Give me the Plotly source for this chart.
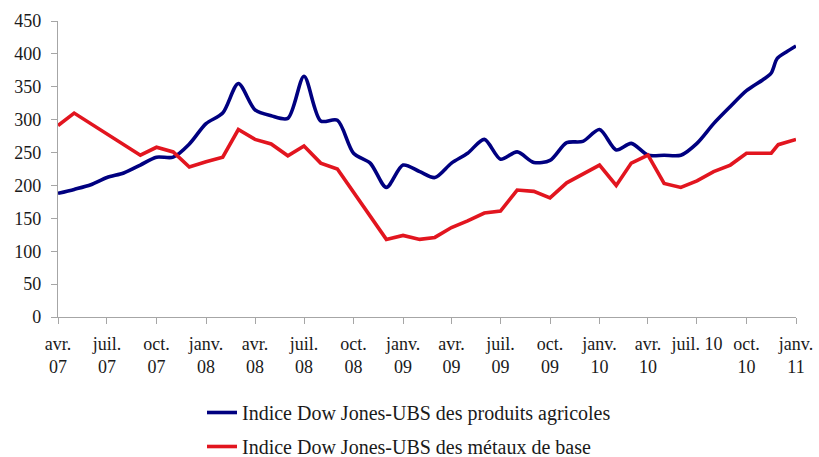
import plotly.graph_objects as go

# Data
agri_dates = [
    "2007-04-01", "2007-05-01", "2007-06-01", "2007-07-01", "2007-08-01", "2007-09-01",
    "2007-10-01", "2007-11-01", "2007-12-01", "2008-01-01", "2008-02-01", "2008-03-01",
    "2008-04-01", "2008-05-01", "2008-06-01", "2008-07-01", "2008-08-01", "2008-09-01",
    "2008-10-01", "2008-11-01", "2008-12-01", "2009-01-01", "2009-02-01", "2009-03-01",
    "2009-04-01", "2009-05-01", "2009-06-01", "2009-07-01", "2009-08-01", "2009-09-01",
    "2009-10-01", "2009-11-01", "2009-12-01", "2010-01-01", "2010-02-01", "2010-03-01",
    "2010-04-01", "2010-05-01", "2010-06-01", "2010-07-01", "2010-08-01", "2010-09-01",
    "2010-10-01", "2010-11-01", "2010-11-16", "2010-11-27", "2010-12-14", "2011-01-01",
]
agri_values = [
    188, 194, 201, 212, 219, 231,
    243, 243, 263, 294, 310, 355,
    315, 306, 302, 366, 298, 299,
    249, 234, 197, 231, 221, 212,
    234, 249, 270, 240, 251, 235,
    238, 265, 267, 285, 254, 264,
    246, 246, 246, 264, 294, 320,
    344, 361, 371, 393, 403, 412,
]

metal_dates = [
    "2007-04-01", "2007-05-01", "2007-09-01", "2007-10-01", "2007-11-01", "2007-12-01",
    "2008-01-01", "2008-02-01", "2008-03-01", "2008-04-01", "2008-05-01", "2008-06-01",
    "2008-07-01", "2008-08-01", "2008-09-01", "2008-12-01", "2009-01-01", "2009-02-01",
    "2009-03-01", "2009-04-01", "2009-05-01", "2009-06-01", "2009-07-01", "2009-08-01",
    "2009-09-01", "2009-10-01", "2009-11-01", "2009-12-01", "2010-01-01", "2010-02-01",
    "2010-03-01", "2010-04-01", "2010-05-01", "2010-06-01", "2010-07-01", "2010-08-01",
    "2010-09-01", "2010-10-01", "2010-11-16", "2010-11-29", "2011-01-01",
]
metal_values = [
    291, 310, 246, 258, 251, 228,
    236, 243, 285, 270, 263, 245,
    260, 234, 225, 118, 124, 118,
    121, 136, 146, 158, 161, 193,
    191, 181, 204, 217, 231, 200,
    234, 246, 203, 197, 207, 221,
    231, 249, 249, 262, 270,
]

tick_dates = [
    "2007-04-01", "2007-07-01", "2007-10-01", "2008-01-01", "2008-04-01", "2008-07-01",
    "2008-10-01", "2009-01-01", "2009-04-01", "2009-07-01", "2009-10-01", "2010-01-01",
    "2010-04-01", "2010-07-01", "2010-10-01", "2011-01-01",
]
tick_labels = [
    "avr.<br>07", "juil.<br>07", "oct.<br>07", "janv.<br>08", "avr.<br>08", "juil.<br>08",
    "oct.<br>08", "janv.<br>09", "avr.<br>09", "juil.<br>09", "oct.<br>09", "janv.<br>10",
    "avr.<br>10", "juil. 10", "oct.<br>10", "janv.<br>11",
]

series_names = [
    "Indice Dow Jones-UBS des produits agricoles",
    "Indice Dow Jones-UBS des métaux de base",
]

FONT = "Liberation Serif, Times New Roman, serif"
TEXT = "#1a1a1a"
AXIS = "#a6a6a6"

fig = go.Figure()
fig.add_trace(go.Scatter(
    x=agri_dates, y=agri_values, mode="lines", name=series_names[0],
    legendgroup="a",
    line=dict(color="#000080", width=3.6, shape="spline", smoothing=0.8),
))
fig.add_trace(go.Scatter(
    x=metal_dates, y=metal_values, mode="lines", name=series_names[1],
    legendgroup="b",
    line=dict(color="#E2151F", width=3.6),
))

fig.update_layout(
    width=819, height=457,
    margin=dict(l=58, r=23, t=21, b=140, autoexpand=False),
    paper_bgcolor="white", plot_bgcolor="white",
    font=dict(family=FONT, size=18, color=TEXT),
    showlegend=True,
    legend=dict(
        xref="container", yref="container",
        x=202 / 819, y=1 - 393 / 457, xanchor="left", yanchor="top",
        orientation="v", tracegroupgap=5,
        font=dict(family=FONT, size=20, color=TEXT),
        bgcolor="rgba(0,0,0,0)",
    ),
    xaxis=dict(
        type="date",
        range=["2007-04-01", "2011-01-01"],
        tickmode="array", tickvals=tick_dates, ticktext=tick_labels,
        tickangle=0, automargin=False,
        showgrid=False, zeroline=False,
        showline=True, linecolor=AXIS, linewidth=1.3,
        ticks="outside", ticklen=6, tickcolor=AXIS, tickwidth=1.3,
        ticklabelstandoff=4,
        tickfont=dict(family=FONT, size=18, color=TEXT),
    ),
    yaxis=dict(
        range=[0, 450], tickmode="linear", tick0=0, dtick=50,
        automargin=False,
        showgrid=False, zeroline=False,
        showline=True, linecolor=AXIS, linewidth=1.3,
        ticks="outside", ticklen=6, tickcolor=AXIS, tickwidth=1.3,
        ticklabelstandoff=6,
        tickfont=dict(family=FONT, size=18, color=TEXT),
    ),
)

fig.write_html(
    "out.html",
    config={"displayModeBar": False},
    post_script="document.body.style.margin='0';document.body.style.overflow='hidden';",
)
